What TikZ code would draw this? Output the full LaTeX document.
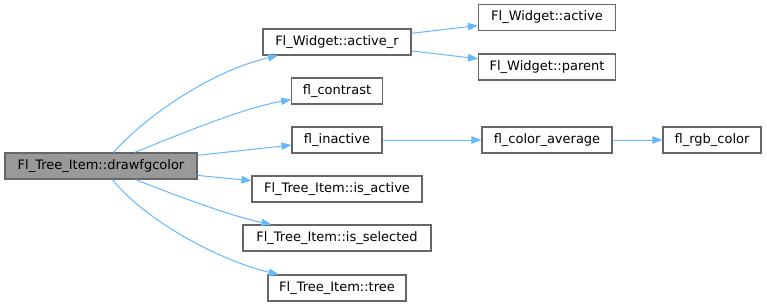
\documentclass[tikz,border=0pt]{standalone}
\usepackage{fontspec}
\setmainfont{DejaVu Sans}
\usetikzlibrary{arrows.meta}
\definecolor{edgecolor}{HTML}{63B8FF}
\definecolor{boxline}{HTML}{666666}
\definecolor{rootfill}{HTML}{999999}

\begin{document}
\begin{tikzpicture}[
  x=0.75pt, y=-0.75pt,
  fn/.style={
    rectangle, draw=boxline, fill=white, line width=0.8pt,
    minimum height=19.5pt, inner sep=0pt,
    font=\fontsize{9.75pt}{11pt}\selectfont, text centered
  },
  call/.style={-{Triangle[length=7.5pt,width=5.5pt]}, draw=edgecolor, line width=0.75pt},
]
  \useasboundingbox (0,0) rectangle (767,307);

  % Caller
  \node[fn, fill=rootfill, minimum width=144pt] (root) at (101,166) {Fl\_Tree\_Item::drawfgcolor};

  % First level
  \node[fn, minimum width=111pt]   (activer)    at (337,42)  {Fl\_Widget::active\_r};
  \node[fn, minimum width=68pt]    (contrast)   at (337,91)  {fl\_contrast};
  \node[fn, minimum width=67.5pt]  (inactive)   at (337,140) {fl\_inactive};
  \node[fn, minimum width=127.5pt] (isactive)   at (337,189) {Fl\_Tree\_Item::is\_active};
  \node[fn, minimum width=141pt]   (isselected) at (337,238) {Fl\_Tree\_Item::is\_selected};
  \node[fn, minimum width=103.5pt] (tree)       at (337,288) {Fl\_Tree\_Item::tree};

  % Second level
  \node[fn, minimum width=102.75pt] (wactive) at (547,17.5) {Fl\_Widget::active};
  \node[fn, minimum width=102.75pt] (wparent) at (547,67)   {Fl\_Widget::parent};
  \node[fn, minimum width=97.5pt]   (average) at (547,140)  {fl\_color\_average};

  % Third level
  \node[fn, minimum width=73.5pt] (rgb) at (712,140) {fl\_rgb\_color};

  % Calls from the caller
  \draw[call] (root) .. controls (150,112) and (215,70) .. (activer);
  \draw[call] (root) .. controls (195,128) and (245,108) .. (contrast);
  \draw[call] (root) -- (inactive);
  \draw[call] (root) -- (isactive);
  \draw[call] (root) .. controls (200,205) and (240,218) .. (isselected);
  \draw[call] (root) .. controls (150,225) and (225,262) .. (tree);

  % Further calls
  \draw[call] (activer) -- (wactive);
  \draw[call] (activer) -- (wparent);
  \draw[call] (inactive) -- (average);
  \draw[call] (average) -- (rgb);
\end{tikzpicture}
\end{document}
